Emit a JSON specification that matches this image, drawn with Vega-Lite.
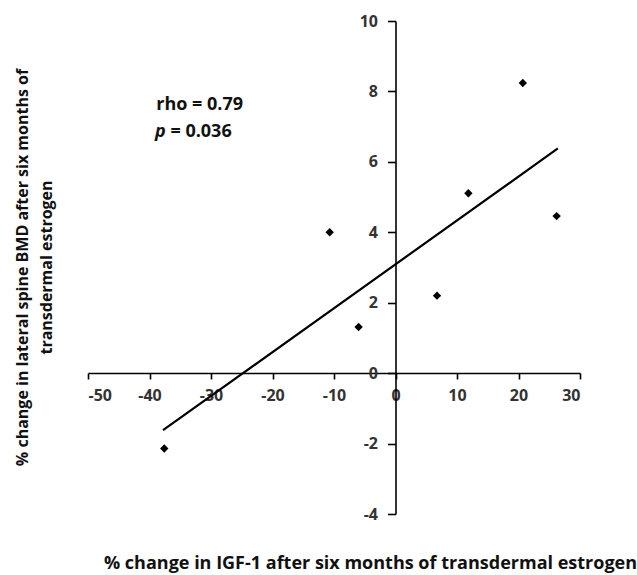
{
  "$schema": "https://vega.github.io/schema/vega-lite/v6.json",
  "width": 492,
  "height": 493,
  "autosize": "none",
  "padding": {"left": 88, "top": 21, "right": 57, "bottom": 61},
  "background": "white",
  "config": {
    "view": {"stroke": null},
    "font": "Open Sans",
    "axis": {
      "grid": false,
      "domainColor": "#000000",
      "domainWidth": 1.6,
      "tickColor": "#000000",
      "tickWidth": 1.6,
      "labelFont": "Open Sans",
      "labelFontWeight": 700,
      "labelFontSize": 16,
      "labelColor": "#333333",
      "titleFont": "Open Sans",
      "titleFontWeight": 700,
      "titleColor": "#111111"
    }
  },
  "datasets": {
    "points": [
      {"igf": -37.6, "bmd": -2.14},
      {"igf": -10.7, "bmd": 4.0},
      {"igf": -6.0, "bmd": 1.31},
      {"igf": 6.75, "bmd": 2.2},
      {"igf": 11.85, "bmd": 5.11},
      {"igf": 20.7, "bmd": 8.24},
      {"igf": 26.2, "bmd": 4.46}
    ],
    "fit": [
      {"igf": -37.8, "bmd": -1.62},
      {"igf": 26.4, "bmd": 6.38}
    ],
    "notes": [
      {"igf": -38.9, "bmd": 7.47, "label": "rho = 0.79"},
      {"igf": -36.6, "bmd": 6.7, "label": "= 0.036"}
    ],
    "italic": [
      {"igf": -39.1, "bmd": 6.7, "label": "p"}
    ]
  },
  "layer": [
    {
      "data": {"name": "fit"},
      "mark": {"type": "line", "color": "#000000", "strokeWidth": 2.2},
      "encoding": {
        "x": {
          "field": "igf", "type": "quantitative",
          "scale": {"domain": [-50, 30], "nice": false, "zero": false},
          "axis": {
            "values": [-50, -40, -30, -20, -10, 0, 10, 20, 30],
            "labelExpr": "toString(datum.value)",
            "offset": -141,
            "tickSize": 6,
            "labelPadding": 8,
            "title": "% change in IGF-1 after six months of transdermal estrogen",
            "titleFontSize": 18,
            "titleX": 282,
            "titleY": 195,
            "titleBaseline": "alphabetic",
            "titleAlign": "center"
          }
        },
        "y": {
          "field": "bmd", "type": "quantitative",
          "scale": {"domain": [-4, 10], "nice": false, "zero": false},
          "axis": {
            "values": [-4, -2, 0, 2, 4, 6, 8, 10],
            "labelExpr": "toString(datum.value)",
            "offset": -307.5,
            "tickSize": 8,
            "labelPadding": 10,
            "title": ["% change in lateral spine BMD after six months of", "transdermal estrogen"],
            "titleFontSize": 16,
            "titleX": -381,
            "titleY": 246,
            "titleAngle": -90,
            "titleBaseline": "top",
            "titleAlign": "center",
            "titleLineHeight": 24
          }
        }
      }
    },
    {
      "data": {"name": "points"},
      "mark": {"type": "point", "shape": "diamond", "filled": true, "color": "#000000", "size": 70, "opacity": 1},
      "encoding": {
        "x": {"field": "igf", "type": "quantitative"},
        "y": {"field": "bmd", "type": "quantitative"}
      }
    },
    {
      "data": {"name": "notes"},
      "mark": {"type": "text", "align": "left", "baseline": "alphabetic", "font": "Open Sans", "fontWeight": 700, "fontSize": 18, "color": "#111111"},
      "encoding": {
        "x": {"field": "igf", "type": "quantitative"},
        "y": {"field": "bmd", "type": "quantitative"},
        "text": {"field": "label"}
      }
    },
    {
      "data": {"name": "italic"},
      "mark": {"type": "text", "align": "left", "baseline": "alphabetic", "font": "Open Sans", "fontWeight": 700, "fontStyle": "italic", "fontSize": 18, "color": "#111111"},
      "encoding": {
        "x": {"field": "igf", "type": "quantitative"},
        "y": {"field": "bmd", "type": "quantitative"},
        "text": {"field": "label"}
      }
    }
  ]
}
